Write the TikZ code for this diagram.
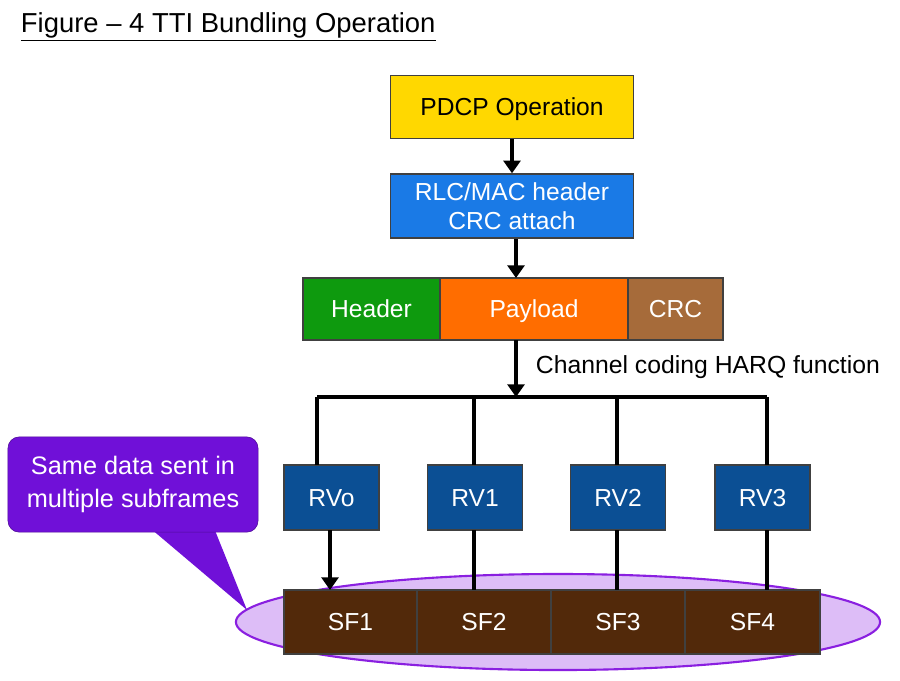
\documentclass[tikz,border=0pt]{standalone}
\usepackage{fontspec}
\setmainfont{Liberation Sans}
\usetikzlibrary{shapes.geometric,arrows.meta}

\definecolor{pdcpyellow}{HTML}{FFD800}
\definecolor{rlcblue}{HTML}{1A7AE6}
\definecolor{hdrgreen}{HTML}{0E9A0E}
\definecolor{payorange}{HTML}{FF6D00}
\definecolor{crcbrown}{HTML}{A66B3A}
\definecolor{rvblue}{HTML}{0B4F94}
\definecolor{sfbrown}{HTML}{52290A}
\definecolor{grpfill}{HTML}{DDBDF7}
\definecolor{grpline}{HTML}{8A1FE0}
\definecolor{notepurple}{HTML}{7010D8}

\tikzset{
    blk/.style={draw=black!75, line width=1pt, inner sep=0pt, align=center,
        font=\fontsize{17.5}{21}\selectfont},
    oneline/.style={text height=12.6pt, text depth=0pt},
    wire/.style={line width=2.2pt},
    arr/.style={line width=2.2pt, -{Triangle[width=12pt,length=9pt]}}
}

\begin{document}
\begin{tikzpicture}[x=0.025cm, y=-0.025cm]

            \useasboundingbox (0,0) rectangle (900,680);

            \node[anchor=west, font=\fontsize{19.5}{23}\selectfont] (title) at (16,27) {\underline{Figure -- 4 TTI Bundling Operation}};

            % upper chain
            \node[blk, oneline, fill=pdcpyellow, minimum width=6.08cm, minimum height=1.58cm] (pdcp) at (512,107) {PDCP Operation};
            \node[blk, fill=rlcblue, text=white, minimum width=6.08cm, minimum height=1.6cm] (rlc) at (512,206) {RLC/MAC header\\CRC attach};

            \node[blk, oneline, fill=hdrgreen, text=white, minimum width=3.43cm, minimum height=1.55cm] (hdr) at (371.5,309) {Header};
            \node[blk, oneline, fill=payorange, text=white, minimum width=4.7cm, minimum height=1.55cm] (pay) at (534,309) {Payload};
            \node[blk, oneline, fill=crcbrown, text=white, minimum width=2.38cm, minimum height=1.55cm] (crc) at (675.5,309) {CRC};

            \draw[arr] (pdcp.south) -- (rlc.north);
            \draw[arr] (rlc.south -| 516,0) -- (516,278);

            % coding and bus
            \coordinate (bus) at (516,397);
            \draw[arr] (516,340) -- (bus);
            \node[anchor=west, font=\fontsize{17.6}{21}\selectfont] (harq) at (531,367) {Channel coding HARQ function};
            \draw[wire] (317,397) -- (767,397);

            % group behind subframes
            \node[ellipse, draw=grpline, line width=1.5pt, fill=grpfill, minimum width=16.1cm, minimum height=2.4cm] (grp) at (558,622) {};

            % redundancy versions
            \node[blk, oneline, fill=rvblue, text=white, minimum width=2.38cm, minimum height=1.63cm] (rv0) at (331.5,497.5) {RVo};
            \node[blk, oneline, fill=rvblue, text=white, minimum width=2.38cm, minimum height=1.63cm] (rv1) at (475,497.5) {RV1};
            \node[blk, oneline, fill=rvblue, text=white, minimum width=2.38cm, minimum height=1.63cm] (rv2) at (618,497.5) {RV2};
            \node[blk, oneline, fill=rvblue, text=white, minimum width=2.38cm, minimum height=1.63cm] (rv3) at (762.5,497.5) {RV3};

            % subframes
            \node[blk, oneline, fill=sfbrown, text=white, minimum width=3.33cm, minimum height=1.6cm] (sf1) at (350.5,622) {SF1};
            \node[blk, oneline, fill=sfbrown, text=white, minimum width=3.35cm, minimum height=1.6cm] (sf2) at (484,622) {SF2};
            \node[blk, oneline, fill=sfbrown, text=white, minimum width=3.35cm, minimum height=1.6cm] (sf3) at (618,622) {SF3};
            \node[blk, oneline, fill=sfbrown, text=white, minimum width=3.38cm, minimum height=1.6cm] (sf4) at (752.5,622) {SF4};

            \draw[wire] (317,397) -- (317,465);
            \draw[wire] (474,397) -- (474,465);
            \draw[wire] (617,397) -- (617,465);
            \draw[wire] (767,397) -- (767,465);

            \draw[arr] (330,530) -- (330,590);
            \draw[wire] (474,530) -- (474,590);
            \draw[wire] (617,530) -- (617,590);
            \draw[wire] (767,530) -- (767,590);

            % callout
            \coordinate (tip) at (247,610);
            \fill[notepurple] (150,528) -- (tip) -- (214,528) -- cycle;
            \node[fill=notepurple, draw=notepurple!70!black, rounded corners=8pt, text=white, align=center,
                minimum width=6.25cm, minimum height=2.38cm, font=\fontsize{18}{23}\selectfont] (note) at (133,484.5) {Same data sent in\\multiple subframes};

\end{tikzpicture}
\end{document}
